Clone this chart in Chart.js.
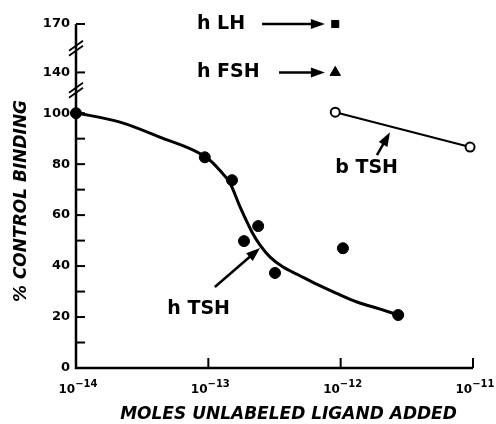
<!DOCTYPE html>
<html lang="en">
<head>
<meta charset="UTF-8">
<title>% Control Binding</title>
<script src="https://cdn.jsdelivr.net/npm/chart.js"></script>
<style>
  html, body { margin: 0; padding: 0; background: #fff; }
  canvas { display: block; }
</style>
</head>
<body>
<canvas id="myChart" width="496" height="424"></canvas>
<script>
// values: x = moles of unlabeled ligand, y = % control binding
const hTshX = [1e-14, 9.4e-14, 1.51e-13, 1.86e-13, 2.38e-13, 3.19e-13, 1.04e-12, 2.72e-12];
const hTshY = [100, 82.7, 73.7, 49.8, 55.7, 37.3, 47, 20.8];

// fitted curve through the h TSH points
const curveX = [1e-14, 2.15e-14, 4.3e-14, 9.8e-14, 1.22e-13, 1.46e-13, 1.74e-13, 2.14e-13,
                2.46e-13, 2.93e-13, 3.67e-13, 4.77e-13, 6.64e-13, 9.4e-13, 1.33e-12, 1.99e-12, 2.72e-12];
const curveY = [100.4, 96.5, 90.6, 82.4, 77.6, 72.5, 63.1, 53.3,
                48.2, 43.5, 39.6, 36.6, 32.8, 29.2, 25.9, 23.1, 20.8];

const bTshX = [9.1e-13, 9.5e-12];
const bTshY = [101, 86.7];

const hLhX = [9.1e-13];
const hLhY = [170];
const hFshX = [9.1e-13];
const hFshY = [140];

// axes
const xTickValues = [1e-14, 1e-13, 1e-12, 1e-11];
const yTickValues = [0, 10, 20, 30, 40, 50, 60, 70, 80, 90, 100];
// broken y axis above 100: real value -> position on the drawn scale
const yBreakReal = [100, 140, 170];
const yBreakPlot = [100, 116, 135];
const yBreakMarks = [109, 125.5];

function plotY(v) {
  if (v <= 100) return v;
  for (let i = 1; i < yBreakReal.length; i++) {
    if (v <= yBreakReal[i]) {
      const t = (v - yBreakReal[i - 1]) / (yBreakReal[i] - yBreakReal[i - 1]);
      return yBreakPlot[i - 1] + t * (yBreakPlot[i] - yBreakPlot[i - 1]);
    }
  }
  return yBreakPlot[yBreakPlot.length - 1];
}

function pts(xs, ys) {
  return xs.map((x, i) => ({ x: x, y: plotY(ys[i]) }));
}

// text labels and arrows in data units
const notes = [
  { text: 'h LH', x: 8.2e-14, y: 170 },
  { text: 'h FSH', x: 8.2e-14, y: 140 },
  { text: 'b TSH', x: 9.1e-13, y: 78.4 },
  { text: 'h TSH', x: 4.9e-14, y: 23.1 }
];
const arrows = [
  { from: [2.55e-13, 170], to: [7.6e-13, 170] },
  { from: [3.42e-13, 140], to: [7.6e-13, 140] },
  { from: [1.88e-12, 83.5], to: [2.36e-12, 92.5] },
  { from: [1.12e-13, 31.8], to: [2.46e-13, 47.1] }
];

const tickFont = { family: 'DejaVu Sans', weight: 'bold', size: 13 };

const decor = {
  id: 'decor',
  afterDraw(chart) {
    const { ctx, chartArea: a, scales: { x, y } } = chart;
    ctx.save();
    ctx.strokeStyle = '#000';
    ctx.fillStyle = '#000';
    ctx.lineCap = 'butt';

    // axis lines
    ctx.lineWidth = 2.5;
    ctx.beginPath();
    ctx.moveTo(a.left, a.top);
    ctx.lineTo(a.left, a.bottom);
    ctx.lineTo(a.right, a.bottom);
    ctx.stroke();

    // inward tick marks
    ctx.lineWidth = 2;
    y.ticks.forEach(t => {
      const py = y.getPixelForValue(t.value);
      ctx.beginPath(); ctx.moveTo(a.left, py); ctx.lineTo(a.left + 9, py); ctx.stroke();
    });
    x.ticks.forEach((t, i) => {
      if (i === 0) return;
      const px = x.getPixelForValue(t.value);
      ctx.beginPath(); ctx.moveTo(px, a.bottom); ctx.lineTo(px, a.bottom - 10); ctx.stroke();
    });

    // x tick labels as 10 with a raised exponent
    ctx.textBaseline = 'alphabetic';
    ctx.textAlign = 'left';
    x.ticks.forEach(t => {
      const px = x.getPixelForValue(t.value);
      const base = '10';
      const exp = '\u2212' + String(-Math.round(Math.log10(t.value)));
      ctx.font = 'bold 12px "DejaVu Sans"';
      const w1 = ctx.measureText(base).width;
      ctx.font = 'bold 10px "DejaVu Sans"';
      const w2 = ctx.measureText(exp).width;
      const x0 = px - (w1 + w2) / 2 + 2;
      ctx.font = 'bold 12px "DejaVu Sans"';
      ctx.fillText(base, x0, a.bottom + 25);
      ctx.font = 'bold 10px "DejaVu Sans"';
      ctx.fillText(exp, x0 + w1, a.bottom + 19);
    });

    // axis break marks
    ctx.lineWidth = 1.8;
    yBreakMarks.forEach(v => {
      const py = y.getPixelForValue(v);
      [-2.5, 2.5].forEach(d => {
        ctx.beginPath();
        ctx.moveTo(a.left - 7, py + d + 5);
        ctx.lineTo(a.left + 7, py + d - 5);
        ctx.stroke();
      });
    });

    // arrows
    ctx.lineWidth = 2.5;
    arrows.forEach(ar => {
      const x0 = x.getPixelForValue(ar.from[0]), y0 = y.getPixelForValue(plotY(ar.from[1]));
      const x1 = x.getPixelForValue(ar.to[0]), y1 = y.getPixelForValue(plotY(ar.to[1]));
      const ang = Math.atan2(y1 - y0, x1 - x0);
      const hl = 14, hw = 5;
      const bx = x1 - hl * Math.cos(ang), by = y1 - hl * Math.sin(ang);
      ctx.beginPath(); ctx.moveTo(x0, y0); ctx.lineTo(bx + 2 * Math.cos(ang), by + 2 * Math.sin(ang)); ctx.stroke();
      ctx.beginPath();
      ctx.moveTo(x1, y1);
      ctx.lineTo(bx + hw * Math.sin(ang), by - hw * Math.cos(ang));
      ctx.lineTo(bx - hw * Math.sin(ang), by + hw * Math.cos(ang));
      ctx.closePath();
      ctx.fill();
    });

    // labels
    ctx.font = 'bold 19px "DejaVu Sans"';
    ctx.textAlign = 'left';
    ctx.textBaseline = 'middle';
    notes.forEach(n => {
      ctx.fillText(n.text, x.getPixelForValue(n.x), y.getPixelForValue(plotY(n.y)));
    });

    // axis titles
    ctx.font = 'italic bold 17px "DejaVu Sans"';
    ctx.textAlign = 'center';
    ctx.fillText('MOLES UNLABELED LIGAND ADDED', (a.left + a.right) / 2 + 14, 415);
    ctx.translate(22, (a.top + a.bottom) / 2 + 5);
    ctx.rotate(-Math.PI / 2);
    ctx.fillText('% CONTROL BINDING', 0, 0);
    ctx.restore();
  }
};

new Chart(document.getElementById('myChart'), {
  type: 'scatter',
  data: {
    datasets: [
      {
        label: 'h TSH fit',
        data: pts(curveX, curveY),
        showLine: true,
        borderColor: '#000',
        borderWidth: 3,
        pointRadius: 0,
        cubicInterpolationMode: 'monotone',
        clip: false
      },
      {
        label: 'h TSH',
        data: pts(hTshX, hTshY),
        pointStyle: 'circle',
        pointRadius: 5.5,
        backgroundColor: '#000',
        borderColor: '#000',
        clip: false
      },
      {
        label: 'b TSH',
        data: pts(bTshX, bTshY),
        showLine: true,
        borderColor: '#000',
        borderWidth: 2,
        pointRadius: 4.5,
        pointBackgroundColor: '#fff',
        pointBorderColor: '#000',
        pointBorderWidth: 2,
        clip: false
      },
      {
        label: 'h LH',
        data: pts(hLhX, hLhY),
        pointStyle: 'rect',
        pointRadius: 5,
        backgroundColor: '#000',
        borderColor: '#000',
        clip: false
      },
      {
        label: 'h FSH',
        data: pts(hFshX, hFshY),
        pointStyle: 'triangle',
        pointRadius: 6,
        backgroundColor: '#000',
        borderColor: '#000',
        clip: false
      }
    ]
  },
  options: {
    responsive: false,
    animation: false,
    layout: { padding: { top: 24, right: 23, left: 0, bottom: 0 } },
    plugins: { legend: { display: false }, tooltip: { enabled: false } },
    scales: {
      x: {
        type: 'logarithmic',
        min: 1e-14,
        max: 1e-11,
        afterFit(s) { s.height = 56; },
        afterBuildTicks(s) { s.ticks = xTickValues.map(v => ({ value: v })); },
        grid: { display: false, drawTicks: false },
        border: { display: false },
        ticks: { display: false, autoSkip: false, maxRotation: 0 }
      },
      y: {
        type: 'linear',
        min: 0,
        max: yBreakPlot[yBreakPlot.length - 1],
        afterFit(s) { s.width = 76; },
        afterBuildTicks(s) {
          s.ticks = yTickValues.concat(yBreakPlot.slice(1)).map(v => ({ value: v }));
        },
        grid: { display: false, drawTicks: false },
        border: { display: false },
        ticks: {
          autoSkip: false,
          padding: 6,
          color: '#000',
          font: tickFont,
          callback: v => {
            if (v <= 100) return v % 20 === 0 ? String(v) : '';
            return String(yBreakReal[yBreakPlot.indexOf(v)]);
          }
        }
      }
    }
  },
  plugins: [decor]
});
</script>
</body>
</html>
